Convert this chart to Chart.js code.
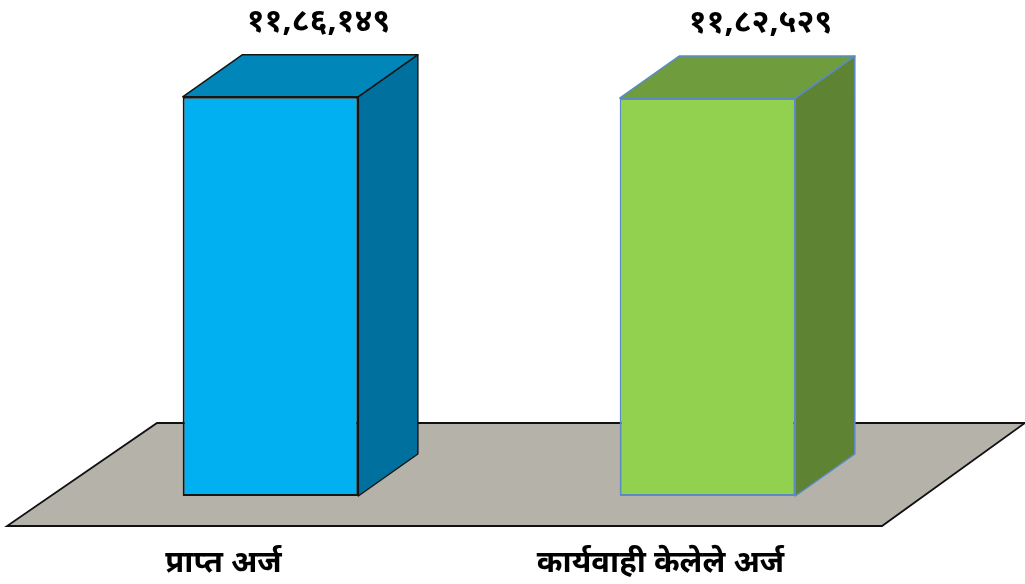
<!DOCTYPE html>
<html>
<head>
<meta charset="utf-8">
<style>html,body{margin:0;padding:0;background:#fff;overflow:hidden}#w{width:1025px;height:584px;position:relative}</style>
<script src="https://cdn.jsdelivr.net/npm/chart.js@4"></script>
</head>
<body>
<div id="w"><canvas id="c" width="1025" height="584"></canvas></div>
<script>
const categories = ['प्राप्त अर्ज', 'कार्यवाही केलेले अर्ज'];
const values = [1186149, 1182529];
const valueLabels = ['११,८६,१४९', '११,८२,५२९'];
const frontColors = ['#00B0F0', '#92D050'];
const topColors = ['#0086B8', '#6F9C3D'];
const sideColors = ['#00709E', '#5E8433'];
const edgeColors = ['#161616', '#5B8AC6'];
const FONT = '"Noto Sans", "Noto Sans Devanagari", "Lohit Devanagari", "Mangal", sans-serif';
const DX = 59.5, DY = 42;

const scene = {
  id: 'scene',
  beforeDatasetsDraw(chart) {
    const g = chart.ctx, a = chart.chartArea, base = chart.scales.y.getPixelForValue(0);
    g.save();
    g.beginPath();
    g.moveTo(a.left - 45, base + 30);
    g.lineTo(a.right - 44, base + 30);
    g.lineTo(a.right + 99, base - 73);
    g.lineTo(a.left + 105, base - 73);
    g.closePath();
    g.fillStyle = '#B5B2AA';
    g.fill();
    g.strokeStyle = '#111';
    g.lineWidth = 1.8;
    g.stroke();
    chart.getDatasetMeta(0).data.forEach((bar, i) => {
      const l = bar.x - bar.width / 2, r = bar.x + bar.width / 2, t = bar.y, b = bar.base;
      g.strokeStyle = edgeColors[i];
      g.lineWidth = 1.5;
      g.lineJoin = 'round';
      g.beginPath();
      g.moveTo(l, t); g.lineTo(l + DX, t - DY); g.lineTo(r + DX, t - DY); g.lineTo(r, t); g.closePath();
      g.fillStyle = topColors[i]; g.fill(); g.stroke();
      g.beginPath();
      g.moveTo(r, t); g.lineTo(r + DX, t - DY); g.lineTo(r + DX, b - DY); g.lineTo(r, b); g.closePath();
      g.fillStyle = sideColors[i]; g.fill(); g.stroke();
    });
    g.restore();
  },
  afterDatasetsDraw(chart) {
    const g = chart.ctx;
    g.save();
    g.fillStyle = '#000';
    g.font = 'bold 32px ' + FONT;
    g.textAlign = 'center';
    g.textBaseline = 'middle';
    chart.getDatasetMeta(0).data.forEach((bar, i) => {
      g.fillText(valueLabels[i], bar.x + (i ? 53 : 48), bar.y - 75);
    });
    g.restore();
  }
};

new Chart(document.getElementById('c'), {
  type: 'bar',
  data: {
    labels: categories,
    datasets: [{
      data: values,
      backgroundColor: frontColors,
      borderColor: edgeColors,
      borderWidth: 2,
      borderSkipped: false,
      barPercentage: 0.402,
      categoryPercentage: 1
    }]
  },
  options: {
    responsive: false,
    animation: false,
    layout: { padding: { left: 52, right: 99, top: 8, bottom: 0 } },
    plugins: { legend: { display: false }, tooltip: { enabled: false } },
    scales: {
      y: { display: false, min: 0, max: 1450000 },
      x: {
        afterFit(s) { s.height = 88; },
        grid: { display: false, drawBorder: false },
        border: { display: false },
        ticks: { color: '#000', font: { family: FONT, size: 31, weight: 'bold' }, padding: 41, labelOffset: -47, maxRotation: 0, autoSkip: false }
      }
    }
  },
  plugins: [scene]
});
</script>
</body>
</html>
